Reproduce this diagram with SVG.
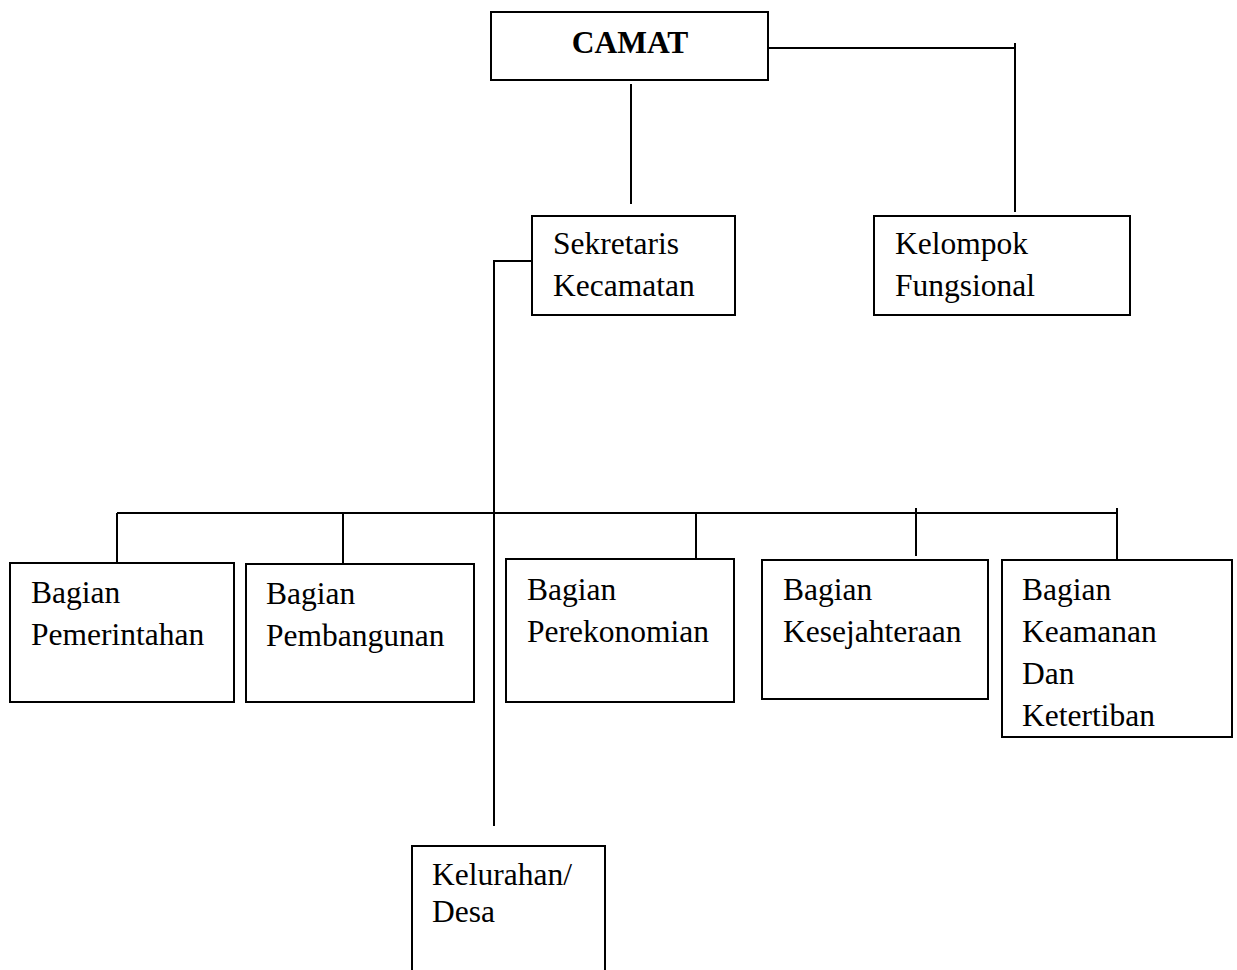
<svg xmlns="http://www.w3.org/2000/svg" width="1237" height="970" viewBox="0 0 1237 970">
<style>
.box{fill:#fff;stroke:#000;stroke-width:2}
.t{font-family:"Liberation Serif","Times New Roman",serif;font-size:31.5px;fill:#000}
.b{font-weight:bold}
.c line,.c polyline{stroke:#000;stroke-width:2;fill:none}
</style>
<rect width="1237" height="970" fill="#fff"/>
<g class="c" id="connectors">
<line x1="631" y1="84" x2="631" y2="204"/>
<line x1="768" y1="48" x2="1015" y2="48"/>
<line x1="1015" y1="43" x2="1015" y2="212"/>
<polyline points="537,261 494,261 494,826"/>
<line x1="117" y1="513" x2="1117" y2="513"/>
<line x1="117" y1="513" x2="117" y2="563"/>
<line x1="343" y1="513" x2="343" y2="564"/>
<line x1="696" y1="513" x2="696" y2="559"/>
<line x1="916" y1="508" x2="916" y2="556"/>
<line x1="1117" y1="508" x2="1117" y2="560"/>
</g>
<g id="camat"><rect class="box" x="491" y="12" width="277" height="68"/><text class="t b" x="630" y="53" text-anchor="middle">CAMAT</text></g>
<g id="sekretaris"><rect class="box" x="532" y="216" width="203" height="99"/><text class="t" x="553" y="254">Sekretaris</text><text class="t" x="553" y="296">Kecamatan</text></g>
<g id="kelompok"><rect class="box" x="874" y="216" width="256" height="99"/><text class="t" x="895" y="254">Kelompok</text><text class="t" x="895" y="296">Fungsional</text></g>
<g id="pemerintahan"><rect class="box" x="10" y="563" width="224" height="139"/><text class="t" x="31" y="603">Bagian</text><text class="t" x="31" y="645">Pemerintahan</text></g>
<g id="pembangunan"><rect class="box" x="246" y="564" width="228" height="138"/><text class="t" x="266" y="604">Bagian</text><text class="t" x="266" y="646">Pembangunan</text></g>
<g id="perekonomian"><rect class="box" x="506" y="559" width="228" height="143"/><text class="t" x="527" y="600">Bagian</text><text class="t" x="527" y="642">Perekonomian</text></g>
<g id="kesejahteraan"><rect class="box" x="762" y="560" width="226" height="139"/><text class="t" x="783" y="600">Bagian</text><text class="t" x="783" y="642">Kesejahteraan</text></g>
<g id="keamanan"><rect class="box" x="1002" y="560" width="230" height="177"/><text class="t" x="1022" y="600">Bagian</text><text class="t" x="1022" y="642">Keamanan</text><text class="t" x="1022" y="684">Dan</text><text class="t" x="1022" y="726">Ketertiban</text></g>
<g id="kelurahan"><rect class="box" x="412" y="846" width="193" height="140"/><text class="t" x="432" y="885">Kelurahan/</text><text class="t" x="432" y="922">Desa</text></g>
</svg>
